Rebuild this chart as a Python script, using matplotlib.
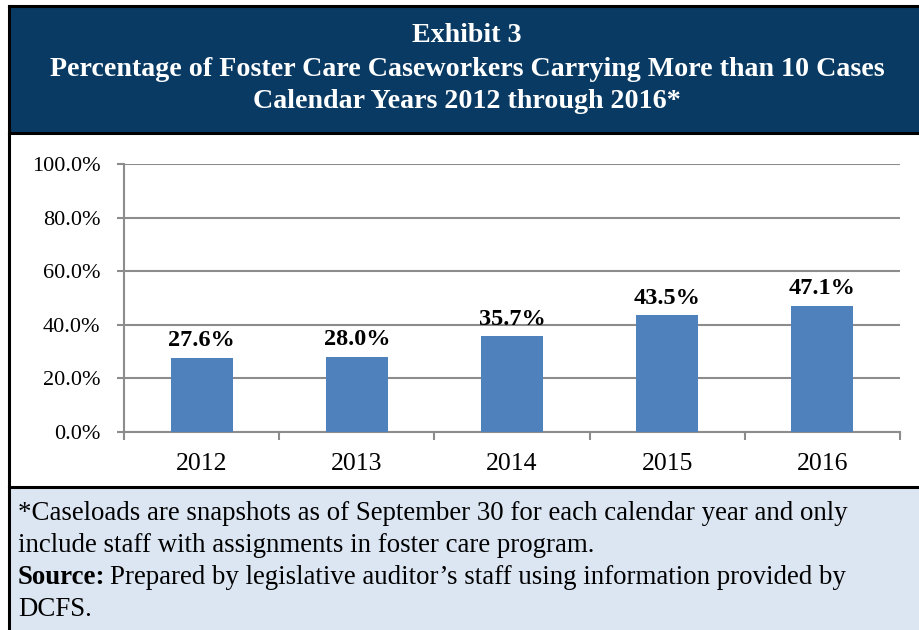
import matplotlib
matplotlib.use('Agg')
import matplotlib.pyplot as plt
from matplotlib.patches import Rectangle
from matplotlib.lines import Line2D
import numpy as np

years = ['2012', '2013', '2014', '2015', '2016']
pct = [27.6, 28.0, 35.7, 43.5, 47.1]
y_ticks = [0, 20, 40, 60, 80, 100]

title_lines = ['Exhibit 3',
               'Percentage of Foster Care Caseworkers Carrying More than 10 Cases',
               'Calendar Years 2012 through 2016*']
note_lines = ['*Caseloads are snapshots as of September 30 for each calendar year and only',
              'include staff with assignments in foster care program.']
source_text = 'Prepared by legislative auditor\u2019s staff using information provided by'
source_tail = 'DCFS.'

navy = '#083a63'
bar_blue = '#4f81bd'
footer_bg = '#dce6f2'
grid_gray = '#8c8c8c'

plt.rcParams['font.family'] = ['Liberation Serif', 'DejaVu Serif']

W, H = 920, 630
fig = plt.figure(figsize=(W / 100, H / 100), dpi=100)


def fx(px):
    return px / W


def fy(py):
    return 1 - py / H


# header / footer backgrounds
fig.patches.append(Rectangle((fx(9), fy(133)), fx(920 - 9), (133 - 6) / H,
                             transform=fig.transFigure, facecolor=navy,
                             edgecolor='none', zorder=0))
fig.patches.append(Rectangle((fx(9), 0), fx(920 - 9), (630 - 487) / H,
                             transform=fig.transFigure, facecolor=footer_bg,
                             edgecolor='none', zorder=0))
# black frame lines
for xs, ys in [((9, 920), (6, 6)), ((9, 9), (6, 630)),
               ((9, 920), (133, 133)), ((9, 920), (487, 487))]:
    fig.lines.append(Line2D([fx(x) for x in xs], [fy(y) for y in ys],
                            transform=fig.transFigure, color='black',
                            linewidth=2.2))

# header text
for txt, yy in zip(title_lines, [36, 70, 102]):
    fig.text(fx(467), fy(yy), txt, ha='center', va='center', color='white',
             fontsize=20.2, fontweight='bold')

# footer text
fs = 19.4
fig.text(fx(18), fy(514), note_lines[0], ha='left', va='center', fontsize=fs)
fig.text(fx(18), fy(546), note_lines[1], ha='left', va='center', fontsize=fs)
t = fig.text(fx(18), fy(578), 'Source:', ha='left', va='center',
             fontsize=fs, fontweight='bold')
fig.canvas.draw()
bb = t.get_window_extent()
fig.text(bb.x1 / W + fx(5), fy(578), source_text, ha='left', va='center',
         fontsize=fs)
fig.text(fx(18), fy(609), source_tail, ha='left', va='center', fontsize=fs)

# chart
ax = fig.add_axes([fx(124), fy(432), fx(900 - 124), (432 - 164) / H])
x = np.arange(len(years))
bars = ax.bar(x, pct, width=0.4, color=bar_blue, zorder=3)
for xi, v in zip(x, pct):
    ax.text(xi, v + 2.5, '%.1f%%' % v, ha='center', va='bottom',
            fontsize=17.5, fontweight='bold')

ax.set_xlim(-0.5, len(years) - 0.5)
ax.set_ylim(0, 100)
ax.set_yticks(y_ticks)
ax.set_yticklabels(['%.1f%%' % v for v in y_ticks])
ax.set_xticks(x)
ax.set_xticklabels(years)
ax.set_xticks(np.arange(-0.5, len(years)), minor=True)
ax.tick_params(axis='x', which='major', length=0, pad=15, labelsize=18.5)
ax.tick_params(axis='x', which='minor', length=6, width=1.5, color=grid_gray)
ax.tick_params(axis='y', length=5, width=1.5, color=grid_gray, pad=12,
               labelsize=16)
ax.yaxis.grid(True, color=grid_gray, linewidth=1.5, zorder=0)
for side in ['top', 'right']:
    ax.spines[side].set_visible(False)
for side in ['left', 'bottom']:
    ax.spines[side].set_color(grid_gray)
    ax.spines[side].set_linewidth(1.5)

fig.savefig('out.png', dpi=100)
